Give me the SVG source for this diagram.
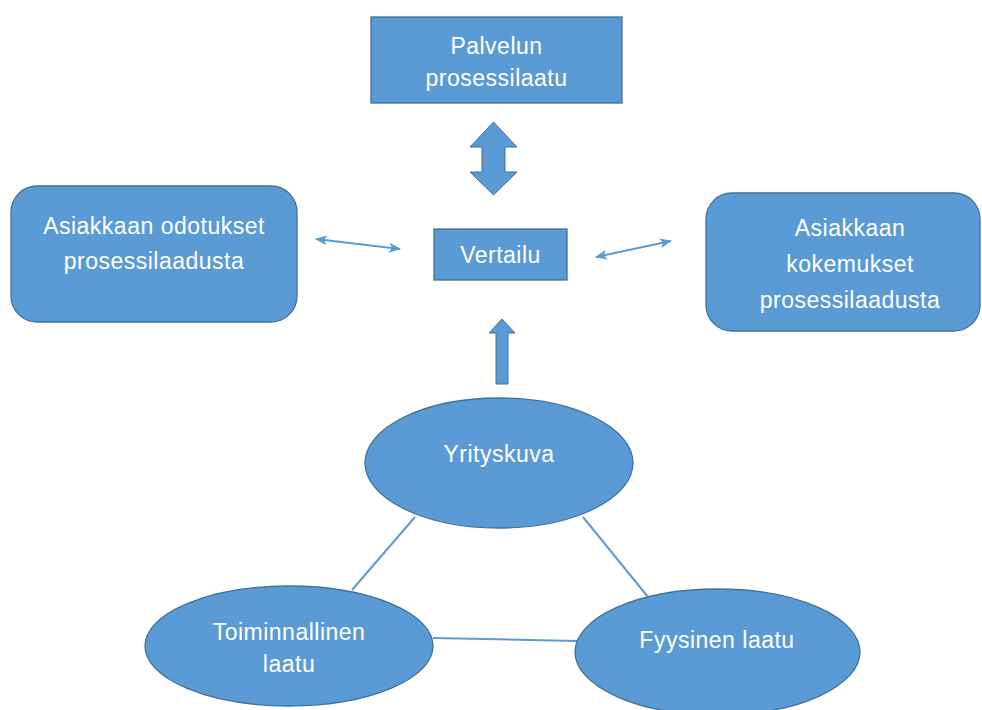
<svg xmlns="http://www.w3.org/2000/svg" width="982" height="710" viewBox="0 0 982 710">
<defs>
<style>
.n{fill:#5b9bd5;stroke:#41719c;stroke-width:1.3}
.t{font-family:"Liberation Sans",Arial,sans-serif;font-size:23px;letter-spacing:0.5px;fill:#ffffff;text-anchor:middle}
.c{stroke:#5b9bd5;stroke-width:2;fill:none}
.ba{fill:#5b9bd5;stroke:#41719c;stroke-width:1}
</style>
<marker id="ah" viewBox="0 0 12 10" refX="11" refY="5" markerWidth="12" markerHeight="10" markerUnits="userSpaceOnUse" orient="auto-start-reverse">
<path d="M0,0 L12,5 L0,10 L3,5 Z" fill="#5b9bd5"/>
</marker>
</defs>
<rect width="982" height="710" fill="#ffffff"/>
<g id="connectors">
<polygon class="ba" points="493.5,122 517,147 505,147 505,172 517,172 493.5,195 470,172 482,172 482,147 470,147"/>
<polygon class="ba" points="502,319 515,333 508,333 508,384 496,384 496,333 489,333"/>
<line class="c" x1="316" y1="239" x2="400" y2="249" marker-start="url(#ah)" marker-end="url(#ah)"/>
<line class="c" x1="596" y1="257" x2="671" y2="241" marker-start="url(#ah)" marker-end="url(#ah)"/>
<line class="c" x1="415" y1="517" x2="352" y2="590"/>
<line class="c" x1="583" y1="517" x2="648" y2="597"/>
<line class="c" x1="433" y1="638" x2="577" y2="641"/>
</g>
<g id="palvelun">
<rect class="n" x="371" y="17" width="251" height="86"/>
<text class="t" x="496.5" y="54">Palvelun</text>
<text class="t" x="496.5" y="86">prosessilaatu</text>
</g>
<g id="odotukset">
<rect class="n" x="11" y="186" width="286" height="136" rx="26" ry="26"/>
<text class="t" x="154" y="234">Asiakkaan odotukset</text>
<text class="t" x="154" y="269">prosessilaadusta</text>
</g>
<g id="vertailu">
<rect class="n" x="434" y="229" width="133" height="51"/>
<text class="t" x="500.5" y="263">Vertailu</text>
</g>
<g id="kokemukset">
<rect class="n" x="706" y="193" width="274" height="138" rx="26" ry="26"/>
<text class="t" x="850" y="236">Asiakkaan</text>
<text class="t" x="850" y="272">kokemukset</text>
<text class="t" x="850" y="308">prosessilaadusta</text>
</g>
<g id="yrityskuva">
<ellipse class="n" cx="499" cy="463" rx="134" ry="65"/>
<text class="t" x="499" y="462">Yrityskuva</text>
</g>
<g id="toiminnallinen">
<ellipse class="n" cx="289" cy="646" rx="144" ry="60"/>
<text class="t" x="289" y="640">Toiminnallinen</text>
<text class="t" x="289" y="672">laatu</text>
</g>
<g id="fyysinen">
<ellipse class="n" cx="717.5" cy="652" rx="142.5" ry="63"/>
<text class="t" x="717" y="648">Fyysinen laatu</text>
</g>
</svg>
